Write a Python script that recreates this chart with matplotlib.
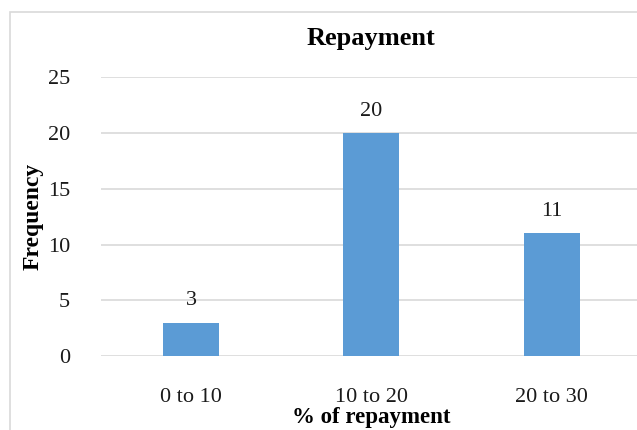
import matplotlib
matplotlib.use("Agg")
import matplotlib.pyplot as plt
from matplotlib.patches import Rectangle

categories = ["0 to 10", "10 to 20", "20 to 30"]
frequency = [3, 20, 11]
y_ticks = [0, 5, 10, 15, 20, 25]

plt.rcParams["font.family"] = ["Liberation Serif", "DejaVu Serif"]

W, H = 637, 430
fig = plt.figure(figsize=(W / 100, H / 100), dpi=100)
fig.patch.set_facecolor("white")

# outer chart frame
fig.add_artist(Rectangle((10 / W, -0.05), 1.2, (H - 12) / H + 0.05,
                         transform=fig.transFigure, fill=False,
                         edgecolor="#d9d9d9", linewidth=1.2))

left, right = 100.75, 642.0
top, bottom = 77.3, 356.0
ax = fig.add_axes([left / W, (H - bottom) / H, (right - left) / W, (bottom - top) / H])

x = range(len(categories))
bars = ax.bar(x, frequency, width=0.31, color="#5b9bd5", zorder=3)
ax.set_xlim(-0.5, len(categories) - 0.5)
ax.set_ylim(0, 25)
ax.set_yticks(y_ticks)
ax.set_xticks(list(x))
ax.set_xticklabels(categories)
ax.grid(axis="y", color="#d9d9d9", linewidth=1.2, zorder=0)
for s in ax.spines.values():
    s.set_visible(False)
ax.tick_params(axis="both", length=0, labelsize=16, colors="#1a1a1a")
ax.tick_params(axis="y", pad=22)
ax.tick_params(axis="x", pad=23)

for rect, v in zip(bars, frequency):
    ax.annotate(str(v), (rect.get_x() + rect.get_width() / 2, v),
                xytext=(0, 9), textcoords="offset points",
                ha="center", va="bottom", fontsize=16, color="#1a1a1a")

ax.set_ylabel("Frequency", fontsize=17, fontweight="bold", labelpad=3)
ax.set_xlabel("% of repayment", fontsize=16.5, fontweight="bold", labelpad=0)
fig.text((left + right) / 2 / W, 1 - 38.5 / H, "Repayment", ha="center", va="center",
         fontsize=19, fontweight="bold")

fig.savefig("out.png", dpi=100)
